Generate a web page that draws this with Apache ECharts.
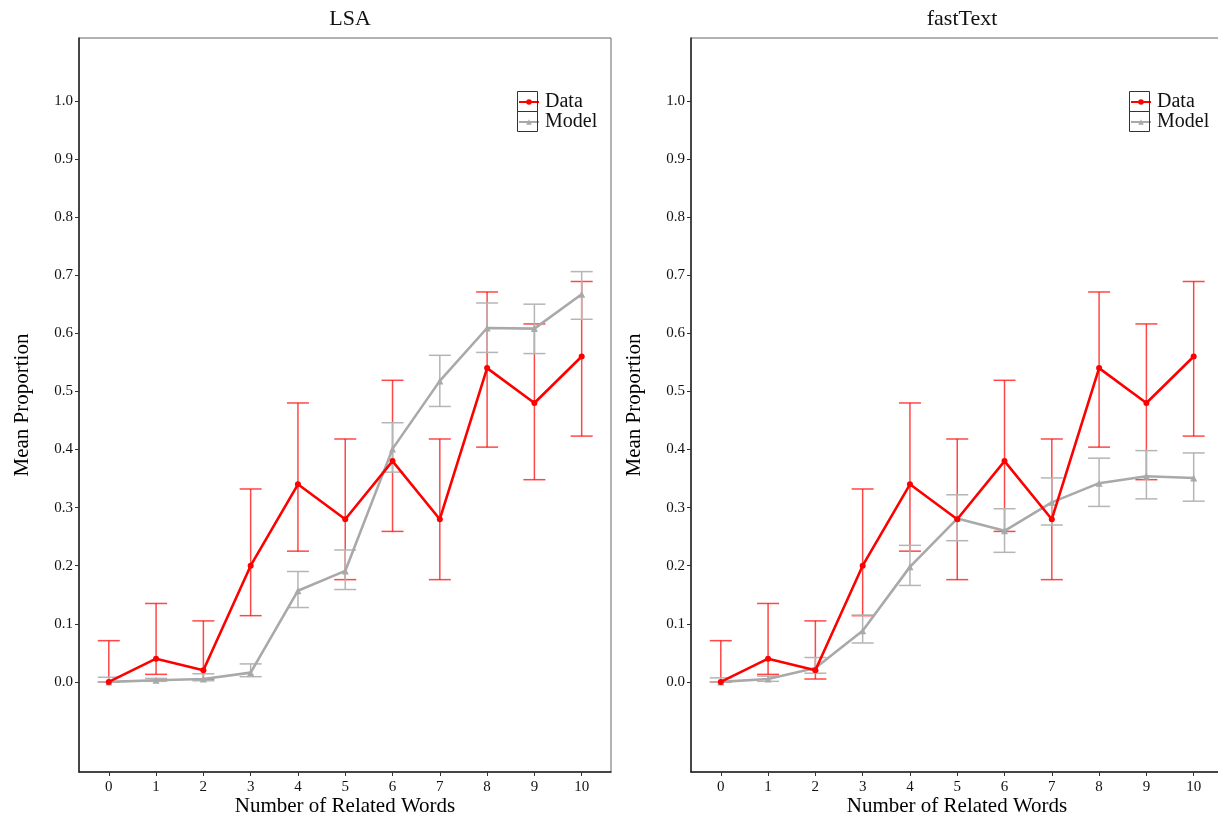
<!DOCTYPE html>
<html>
<head>
<meta charset="utf-8">
<title>Mean Proportion by Number of Related Words</title>
<script src="https://cdn.jsdelivr.net/npm/echarts@6/dist/echarts.min.js"></script>
<style>
  html, body { margin: 0; padding: 0; background: #fff; overflow: hidden; }
  #chart { width: 1218px; height: 814px; }
</style>
</head>
<body>
<div id="chart"></div>
<script>
// Number of related words (x positions)
const relatedWords = [0, 1, 2, 3, 4, 5, 6, 7, 8, 9, 10];
const xTicks = [0, 1, 2, 3, 4, 5, 6, 7, 8, 9, 10];
const yTicks = [0.0, 0.1, 0.2, 0.3, 0.4, 0.5, 0.6, 0.7, 0.8, 0.9, 1.0];

// Observed data (same in both panels)
const dataMean  = [0.000, 0.040, 0.020, 0.200, 0.340, 0.280, 0.380, 0.280, 0.540, 0.480, 0.560];
const dataLower = [0.000, 0.013, 0.005, 0.114, 0.225, 0.176, 0.259, 0.176, 0.404, 0.348, 0.423];
const dataUpper = [0.071, 0.135, 0.105, 0.332, 0.480, 0.418, 0.519, 0.418, 0.671, 0.616, 0.689];

// LSA model predictions
const lsaMean  = [0.000, 0.003, 0.005, 0.016, 0.157, 0.191, 0.401, 0.518, 0.609, 0.608, 0.667];
const lsaLower = [0.000, 0.001, 0.002, 0.009, 0.128, 0.159, 0.361, 0.474, 0.567, 0.565, 0.624];
const lsaUpper = [0.008, 0.006, 0.014, 0.031, 0.190, 0.227, 0.446, 0.562, 0.652, 0.650, 0.706];

// fastText model predictions
const ftMean  = [0.000, 0.005, 0.024, 0.088, 0.198, 0.281, 0.260, 0.309, 0.342, 0.354, 0.351];
const ftLower = [0.000, 0.001, 0.015, 0.067, 0.166, 0.243, 0.223, 0.270, 0.302, 0.315, 0.311];
const ftUpper = [0.007, 0.010, 0.042, 0.115, 0.235, 0.322, 0.298, 0.351, 0.385, 0.398, 0.394];

const panelTitles = ['LSA', 'fastText'];
const xName = 'Number of Related Words';
const yName = 'Mean Proportion';

const FONT = '"Liberation Serif", "DejaVu Serif", serif';
const RED = '#ff0000';
const GREY = '#a9a9a9';

const chart = echarts.init(document.getElementById('chart'), null, { renderer: 'canvas' });

function points(ys) { return relatedWords.map((x, i) => [x, ys[i]]); }
function bars(lo, hi) { return relatedWords.map((x, i) => [x, lo[i], hi[i]]); }

function errorBarRender(color) {
  return function (params, api) {
    const x = api.value(0);
    const top = api.coord([x, api.value(2)]);
    const bot = api.coord([x, api.value(1)]);
    const half = 11;
    const style = { stroke: color, lineWidth: 1.5, fill: null };
    return {
      type: 'group',
      children: [
        { type: 'line', shape: { x1: top[0], y1: top[1], x2: bot[0], y2: bot[1] }, style },
        { type: 'line', shape: { x1: top[0] - half, y1: top[1], x2: top[0] + half, y2: top[1] }, style },
        { type: 'line', shape: { x1: bot[0] - half, y1: bot[1], x2: bot[0] + half, y2: bot[1] }, style }
      ]
    };
  };
}

const grids = [
  { left: 79, top: 38, width: 532, height: 734 },
  { left: 691, top: 38, width: 532, height: 734 }
];

const xAxes = grids.map((g, i) => ({
  type: 'value', gridIndex: i, min: -0.63, max: 10.62,
  name: xName, nameLocation: 'middle', nameGap: 24, nameMoveOverlap: false,
  nameTextStyle: { fontFamily: FONT, fontSize: 21, color: '#000' },
  axisLine: { show: true, onZero: false, lineStyle: { color: '#222', width: 1.5 } },
  axisTick: { show: true, length: 4, customValues: xTicks, lineStyle: { color: '#333' } },
  axisLabel: { customValues: xTicks, margin: 8, fontFamily: FONT, fontSize: 15, color: '#111' },
  splitLine: { show: false }
}));

const yAxes = grids.map((g, i) => ({
  type: 'value', gridIndex: i, min: -0.155, max: 1.108,
  name: yName, nameLocation: 'middle', nameGap: 46, nameMoveOverlap: false,
  nameTextStyle: { fontFamily: FONT, fontSize: 21, color: '#000' },
  axisLine: { show: true, onZero: false, lineStyle: { color: '#222', width: 1.5 } },
  axisTick: { show: true, length: 4, customValues: yTicks, lineStyle: { color: '#333' } },
  axisLabel: { customValues: yTicks, margin: 6, fontFamily: FONT, fontSize: 15, color: '#111',
               formatter: v => v.toFixed(1) },
  splitLine: { show: false }
}));

const models = [
  { mean: lsaMean, lo: lsaLower, hi: lsaUpper },
  { mean: ftMean, lo: ftLower, hi: ftUpper }
];

const series = [];
models.forEach((m, i) => {
  series.push({
    name: 'Data error', type: 'custom', xAxisIndex: i, yAxisIndex: i, z: 2,
    renderItem: errorBarRender('rgba(255,0,0,0.72)'),
    data: bars(dataLower, dataUpper), silent: true
  });
  series.push({
    name: 'Model error', type: 'custom', xAxisIndex: i, yAxisIndex: i, z: 2,
    renderItem: errorBarRender('#b5b5b5'),
    data: bars(m.lo, m.hi), silent: true
  });
  series.push({
    name: 'Data', type: 'line', xAxisIndex: i, yAxisIndex: i, z: 4,
    data: points(dataMean), symbol: 'circle', symbolSize: 6,
    lineStyle: { color: RED, width: 2.6 }, itemStyle: { color: RED },
    animation: false
  });
  series.push({
    name: 'Model', type: 'line', xAxisIndex: i, yAxisIndex: i, z: 3,
    data: points(m.mean), symbol: 'triangle', symbolSize: 7,
    lineStyle: { color: GREY, width: 2.6 }, itemStyle: { color: GREY },
    animation: false
  });
});

const legendPos = [{ left: 518, top: 92 }, { left: 1130, top: 92 }];

chart.setOption({
  animation: false,
  backgroundColor: '#fff',
  title: panelTitles.map((t, i) => ({
    text: t,
    left: grids[i].left + grids[i].width / 2,
    top: 3,
    textAlign: 'center',
    textStyle: { fontFamily: FONT, fontSize: 22, fontWeight: 'normal', color: '#111' }
  })),
  grid: grids.map(g => Object.assign({
    show: true, borderColor: '#666', borderWidth: 1, backgroundColor: 'transparent',
    containLabel: false, outerBoundsMode: 'none'
  }, g)),
  xAxis: xAxes,
  yAxis: yAxes,
  legend: legendPos.map(p => ({
    left: p.left, top: p.top, orient: 'vertical',
    data: ['Data', 'Model'],
    itemWidth: 20, itemHeight: 7, itemGap: 0,
    selectedMode: false,
    textStyle: { fontFamily: FONT, fontSize: 20, color: '#111', lineHeight: 20, padding: [0, 0, 0, 1] },
    padding: 0
  })),
  graphic: legendPos.flatMap(p => [
    { type: 'rect', shape: { x: p.left - 0.5, y: p.top - 0.5, width: 20, height: 20 },
      style: { fill: null, stroke: '#333', lineWidth: 1 }, z: 100 },
    { type: 'rect', shape: { x: p.left - 0.5, y: p.top + 19.5, width: 20, height: 20 },
      style: { fill: null, stroke: '#333', lineWidth: 1 }, z: 100 }
  ]),
  series
});
</script>
</body>
</html>
